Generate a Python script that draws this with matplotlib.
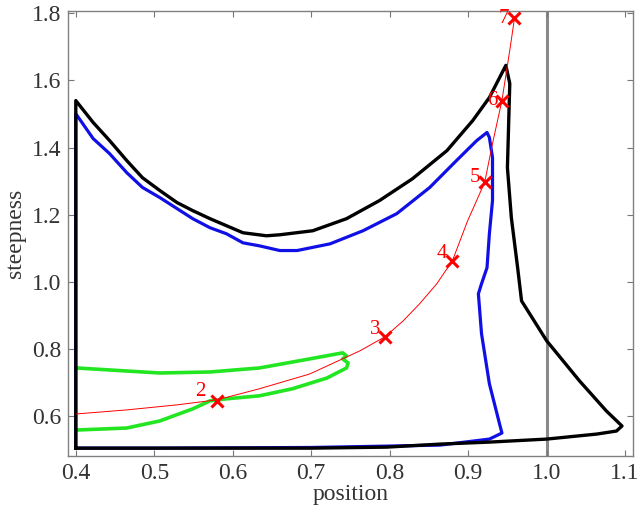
import matplotlib
matplotlib.use("Agg")
import matplotlib.pyplot as plt

plt.rcParams['font.family'] = ['Liberation Serif', 'DejaVu Serif']

# Kontur zewnętrzny (czarny)
black_x = [0.400, 0.400, 0.422, 0.443, 0.465, 0.485, 0.507, 0.529, 0.549, 0.571,
           0.592, 0.613, 0.643, 0.660, 0.702, 0.745, 0.787, 0.829, 0.873, 0.906,
           0.927, 0.948, 0.953, 0.950, 0.955, 0.963, 0.968, 1.000, 1.042, 1.076,
           1.096, 1.089, 1.064, 1.000, 0.927, 0.864, 0.796, 0.700, 0.500, 0.400]
black_y = [0.504, 1.540, 1.475, 1.421, 1.361, 1.310, 1.272, 1.236, 1.212, 1.188,
           1.167, 1.146, 1.137, 1.140, 1.152, 1.188, 1.242, 1.307, 1.391, 1.481,
           1.549, 1.645, 1.591, 1.340, 1.191, 1.042, 0.943, 0.824, 0.704, 0.615,
           0.570, 0.555, 0.546, 0.531, 0.522, 0.516, 0.507, 0.504, 0.504, 0.504]

# Kontur środkowy (niebieski)
blue_x = [0.400, 0.400, 0.422, 0.443, 0.465, 0.485, 0.507, 0.529, 0.549, 0.571,
          0.592, 0.613, 0.634, 0.660, 0.682, 0.724, 0.766, 0.809, 0.851, 0.885,
          0.911, 0.924, 0.927, 0.931, 0.931, 0.927, 0.924, 0.917, 0.913, 0.917,
          0.927, 0.940, 0.943, 0.927, 0.885, 0.864, 0.700, 0.500, 0.400]
blue_y = [0.504, 1.501, 1.427, 1.382, 1.325, 1.281, 1.251, 1.218, 1.188, 1.161,
          1.143, 1.116, 1.107, 1.093, 1.093, 1.113, 1.152, 1.203, 1.281, 1.361,
          1.421, 1.445, 1.430, 1.370, 1.242, 1.143, 1.042, 0.994, 0.964, 0.845,
          0.696, 0.576, 0.549, 0.531, 0.519, 0.513, 0.506, 0.504, 0.504]

# Kontur wewnętrzny (zielony)
green_x = [0.401, 0.443, 0.507, 0.571, 0.634, 0.698, 0.740, 0.745, 0.740, 0.747,
           0.745, 0.720, 0.676, 0.634, 0.592, 0.571, 0.549, 0.507, 0.465, 0.401]
green_y = [0.743, 0.737, 0.728, 0.731, 0.743, 0.770, 0.788, 0.779, 0.770, 0.758,
           0.743, 0.713, 0.681, 0.660, 0.651, 0.645, 0.621, 0.585, 0.564, 0.558]

# Trajektoria (czerwona)
red_x = [0.401, 0.465, 0.529, 0.580, 0.634, 0.698, 0.762, 0.794, 0.817, 0.838,
         0.860, 0.880, 0.899, 0.921, 0.931, 0.943, 0.953, 0.959]
red_y = [0.606, 0.618, 0.633, 0.648, 0.681, 0.725, 0.794, 0.836, 0.883, 0.934,
         0.994, 1.063, 1.180, 1.296, 1.412, 1.540, 1.690, 1.785]

# Punkty oznaczone numerami
mark_x = [0.580, 0.794, 0.880, 0.921, 0.943, 0.959]
mark_y = [0.645, 0.836, 1.063, 1.296, 1.540, 1.785]
mark_labels = ['2', '3', '4', '5', '6', '7']

# przesunięcia etykiet (punkty)
label_dx = [-8, -3.5, -4, -3.5, -3, -3.5]
label_dy = [7, 5.5, 5, 3.5, 0, 0]

fig = plt.figure(figsize=(6.41, 5.12), dpi=100)
ax = fig.add_axes([0.106, 0.109, 0.8815, 0.8695])

ax.axvline(1.0, color='#8a8a8a', lw=2.2, zorder=1)
ax.plot(green_x, green_y, color='#22e622', lw=2.6, zorder=2, solid_joinstyle='round')
ax.plot(blue_x, blue_y, color='#1010e6', lw=2.3, zorder=3, solid_joinstyle='round')
ax.plot(black_x, black_y, color='black', lw=2.4, zorder=4, solid_joinstyle='round')
ax.plot(red_x, red_y, color='red', lw=0.7, zorder=5)
ax.plot(mark_x, mark_y, 'x', color='red', ms=8, mew=2.2, zorder=6)

for mx, my, lab, dx, dy in zip(mark_x, mark_y, mark_labels, label_dx, label_dy):
    ax.annotate(lab, (mx, my), textcoords='offset points', xytext=(dx, dy),
                ha='right', va='center', color='red', fontsize=15, zorder=7)

ax.set_xlim(0.39, 1.11)
ax.set_ylim(0.48, 1.807)
ax.set_xticks([0.4, 0.5, 0.6, 0.7, 0.8, 0.9, 1.0, 1.1])
ax.set_yticks([0.6, 0.8, 1.0, 1.2, 1.4, 1.6, 1.8])
ax.set_xticklabels(['0.4', '0.5', '0.6', '0.7', '0.8', '0.9', '1.0', '1.1'])
ax.set_yticklabels(['0.6', '0.8', '1.0', '1.2', '1.4', '1.6', '1.8'])

ax.tick_params(direction='in', top=True, right=True, length=4, width=0.8,
               color='#777777', labelcolor='#333333', labelsize=17, pad=5)
for sp in ax.spines.values():
    sp.set_color('#808080')
    sp.set_linewidth(1.0)

ax.set_xlabel('position', fontsize=17, color='#333333', labelpad=0)
ax.set_ylabel('steepness', fontsize=17, color='#333333', labelpad=4)

fig.savefig('out.png', dpi=100)
